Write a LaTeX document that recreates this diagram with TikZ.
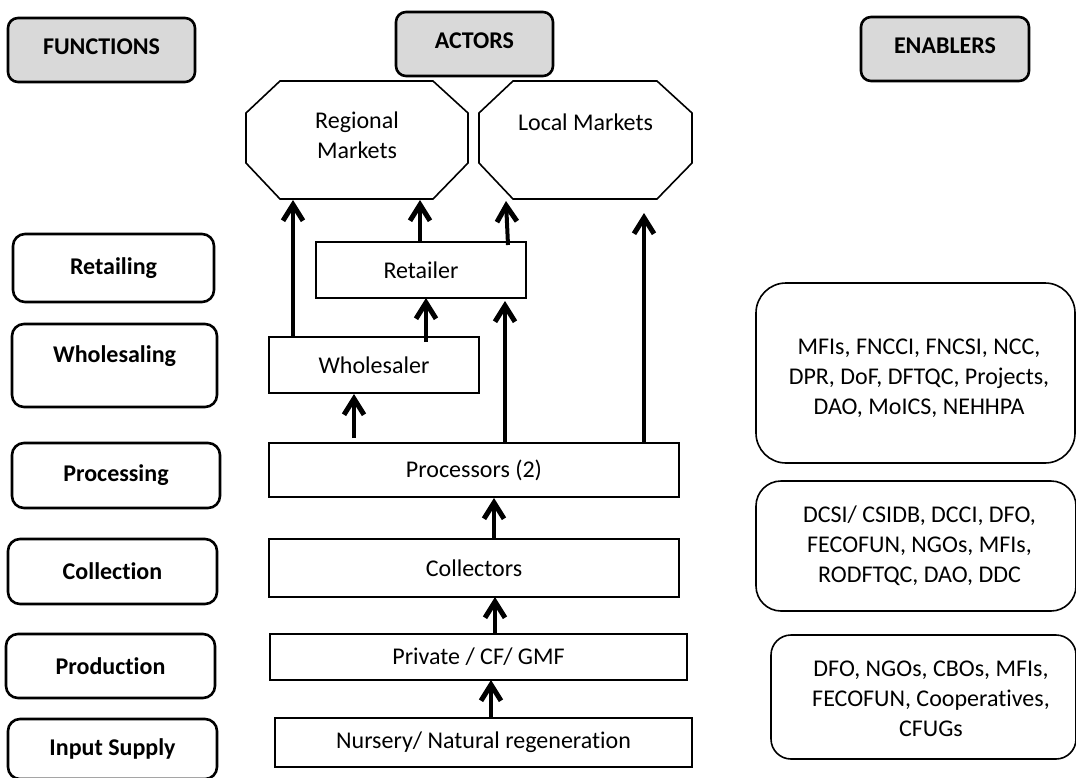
\documentclass[tikz,border=0pt]{standalone}
\usepackage{fontspec}
\setmainfont{Carlito}[Ligatures=NoCommon]
\usetikzlibrary{arrows.meta,calc}
\definecolor{hdrgray}{HTML}{D9D9D9}

% chamfered outline drawn around an invisible placeholder node
\newcommand\octoutline[1]{%
  \draw[octline] ($(#1.north west)+(34,0)$) -- ($(#1.north east)+(-35,0)$)
    -- ($(#1.north east)+(0,32)$) -- ($(#1.south east)+(0,-36)$)
    -- ($(#1.south east)+(-35,0)$) -- ($(#1.south west)+(34,0)$)
    -- ($(#1.south west)+(0,-36)$) -- ($(#1.north west)+(0,32)$) -- cycle;}

\begin{document}
\begin{tikzpicture}[x=1pt,y=-1pt,
  every node/.style={font=\fontsize{24}{30}\selectfont, inner sep=0pt, outer sep=0pt, align=center},
  header/.style={draw, line width=2.6pt, rounded corners=10pt, fill=hdrgray,
    font=\fontsize{24}{30}\selectfont\bfseries, text depth=6pt},
  funcbox/.style={draw, line width=2.6pt, rounded corners=12pt,
    font=\fontsize{24}{30}\selectfont\bfseries},
  actorbox/.style={draw, line width=1.6pt},
  enabox/.style={draw, line width=1.6pt},
  market/.style={minimum width=#1, minimum height=118pt},
  octline/.style={line width=1.6pt, line join=miter},
  flow/.style={line width=4pt, -{Straight Barb[length=16pt,width=20pt,line width=5pt]}},
]
\fill[white] (0,0) rectangle (1076,777);
\useasboundingbox (0,0) rectangle (1076,777);
\clip (0,0) rectangle (1076,777);

% column headers
\node[header, minimum width=187pt, minimum height=64pt] (hfun) at (101.5,50) {FUNCTIONS};
\node[header, minimum width=157pt, minimum height=64pt] (hact) at (474.5,44) {ACTORS};
\node[header, minimum width=168pt, minimum height=64pt] (hena) at (945,49) {ENABLERS};

% functions
\node[funcbox, minimum width=201pt, minimum height=68pt] (fret) at (113.5,268) {Retailing};
\node[funcbox, minimum width=205pt, minimum height=83pt] (fwho) at (114.5,365.5) {};
\node[font=\fontsize{24}{30}\selectfont\bfseries] (fwhot) at (114.5,356) {Wholesaling};
\node[funcbox, minimum width=208pt, minimum height=65pt] (fpro) at (116,475.5) {Processing};
\node[funcbox, minimum width=209pt, minimum height=65pt] (fcol) at (112.5,571.5) {Collection};
\node[funcbox, minimum width=209pt, minimum height=64pt] (fprod) at (110.5,666) {Production};
\node[funcbox, minimum width=209pt, minimum height=60pt] (finp) at (112.5,749) {Input Supply};

% markets
\node[market=222pt] (reg) at (357,140) {};
\octoutline{reg}
\node (regt) at (357,135) {Regional\\Markets};
\node[market=213pt] (loc) at (585.5,140) {};
\octoutline{loc}
\node (loct) at (585.5,122) {Local Markets};

% actors
\node[actorbox, minimum width=210pt, minimum height=56pt] (ret) at (421,270) {Retailer};
\node[actorbox, minimum width=210pt, minimum height=56pt] (who) at (374,365) {Wholesaler};
\node[actorbox, minimum width=410pt, minimum height=54pt] (proc) at (474,470) {Processors (2)};
\node[actorbox, minimum width=410pt, minimum height=58pt] (coll) at (474,568) {Collectors};
\node[actorbox, minimum width=417pt, minimum height=46pt] (priv) at (478.5,657) {Private / CF/ GMF};
\node[actorbox, minimum width=417pt, minimum height=49pt] (nurs) at (483.5,742.5) {Nursery/ Natural regeneration};

% enablers
\node[enabox, rounded corners=30pt, minimum width=319pt, minimum height=180pt] (ena) at (915.5,373) {};
\node (enat) at (919,378) {MFIs, FNCCI, FNCSI, NCC,\\DPR, DoF, DFTQC, Projects,\\DAO, MoICS, NEHHPA};
\node[enabox, rounded corners=25pt, minimum width=320pt, minimum height=130pt] (enb) at (916,546) {};
\node (enbt) at (919.5,546) {DCSI/ CSIDB, DCCI, DFO,\\FECOFUN, NGOs, MFIs,\\RODFTQC, DAO, DDC};
\node[enabox, rounded corners=20pt, minimum width=305pt, minimum height=124pt] (enc) at (923.5,697) {};
\node (enct) at (931,699) {DFO, NGOs, CBOs, MFIs,\\FECOFUN, Cooperatives,\\CFUGs};

% flows between actors
\draw[flow] ($(who.north west)+(24,0)$) -- ($(reg.south west)+(47,1)$);
\draw[flow] ($(ret.north west)+(104,0)$) -- ($(reg.south west)+(174,1)$);
\draw[flow] ($(ret.north east)+(-18,3)$) -- ($(loc.south west)+(27,2)$);
\draw[flow] ($(proc.north west)+(375,0)$) -- ($(loc.south west)+(165,14)$);
\draw[flow] ($(who.north west)+(157,5)$) -- ($(ret.south west)+(110,0)$);
\draw[flow] ($(proc.north west)+(236,0)$) -- ($(ret.south west)+(189,3)$);
\draw[flow] ($(proc.north west)+(85,-5)$) -- ($(who.south west)+(85,1)$);
\draw[flow] ($(coll.north west)+(225,0)$) -- ($(proc.south west)+(225,1)$);
\draw[flow] ($(priv.north west)+(225,0)$) -- ($(coll.south west)+(226,0)$);
\draw[flow] ($(nurs.north west)+(216,0)$) -- ($(priv.south west)+(221,0)$);
\end{tikzpicture}
\end{document}
